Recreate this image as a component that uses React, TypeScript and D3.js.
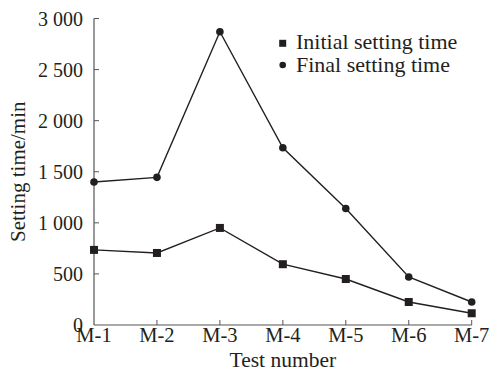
import React, { useEffect, useRef } from "react";
import * as d3 from "d3";

// Test series and their setting times (minutes)
const categories = ["M-1", "M-2", "M-3", "M-4", "M-5", "M-6", "M-7"];
const initialSetting = [735, 705, 950, 595, 450, 225, 115];
const finalSetting = [1400, 1445, 2870, 1735, 1140, 470, 225];
const yTicks = [0, 500, 1000, 1500, 2000, 2500, 3000];
const seriesNames = ["Initial setting time", "Final setting time"];

const W = 490;
const H = 379;
const INK = "#231f20";
const FONT = "Liberation Serif, Times New Roman, Times, serif";

function fmt(v: number): string {
  // thousands separated by a space, e.g. "2 500"
  const s = String(v);
  return s.length > 3 ? s.slice(0, s.length - 3) + " " + s.slice(-3) : s;
}

export default function App() {
  const ref = useRef<SVGSVGElement>(null);

  useEffect(() => {
    const svg = d3.select(ref.current);
    svg.selectAll("*").remove();

    const x = d3.scalePoint<string>().domain(categories).range([94, 471.7]);
    const y = d3.scaleLinear().domain([0, 3000]).range([325, 18.5]);

    const g = svg.append("g").style("font-family", FONT);

    // axes
    g.append("line")
      .attr("x1", x(categories[0])!).attr("x2", x(categories[0])!)
      .attr("y1", y(0)).attr("y2", y(3000))
      .attr("stroke", "#555").attr("stroke-width", 1.2);
    g.append("line")
      .attr("x1", x(categories[0])!).attr("x2", x(categories[categories.length - 1])!)
      .attr("y1", y(0)).attr("y2", y(0))
      .attr("stroke", "#555").attr("stroke-width", 1.2);

    // y ticks (inward) and labels
    yTicks.forEach((t) => {
      if (t > 0) {
        g.append("line")
          .attr("x1", x(categories[0])!).attr("x2", x(categories[0])! + 5)
          .attr("y1", y(t)).attr("y2", y(t))
          .attr("stroke", "#555").attr("stroke-width", 1);
      }
      g.append("text")
        .attr("x", 83).attr("y", y(t))
        .attr("dy", "0.35em")
        .attr("text-anchor", "end")
        .style("font-size", "20px")
        .attr("fill", INK)
        .text(fmt(t));
    });

    // x ticks (inward) and labels
    categories.forEach((c, i) => {
      if (i > 0) {
        g.append("line")
          .attr("x1", x(c)!).attr("x2", x(c)!)
          .attr("y1", y(0)).attr("y2", y(0) - 5)
          .attr("stroke", "#555").attr("stroke-width", 1);
      }
      g.append("text")
        .attr("x", x(c)!).attr("y", 342)
        .attr("text-anchor", "middle")
        .style("font-size", "20.5px")
        .attr("fill", INK)
        .text(c);
    });

    // axis titles
    g.append("text")
      .attr("x", (x(categories[0])! + x(categories[6])!) / 2).attr("y", 367)
      .attr("text-anchor", "middle")
      .style("font-size", "21.5px")
      .attr("fill", INK)
      .text("Test number");
    g.append("text")
      .attr("transform", `translate(25, ${(y(0) + y(3000)) / 2}) rotate(-90)`)
      .attr("text-anchor", "middle")
      .style("font-size", "21px")
      .attr("fill", INK)
      .text("Setting time/min");

    const line = d3.line<number>()
      .x((_, i) => x(categories[i])!)
      .y((d) => y(d));

    // final setting time: line + circles
    g.append("path")
      .attr("d", line(finalSetting)!)
      .attr("fill", "none").attr("stroke", INK).attr("stroke-width", 1.4);
    g.selectAll(".fin").data(finalSetting).enter().append("circle")
      .attr("cx", (_, i) => x(categories[i])!)
      .attr("cy", (d) => y(d))
      .attr("r", 3.8)
      .attr("fill", INK);

    // initial setting time: line + squares
    g.append("path")
      .attr("d", line(initialSetting)!)
      .attr("fill", "none").attr("stroke", INK).attr("stroke-width", 1.4);
    const s = 8;
    g.selectAll(".ini").data(initialSetting).enter().append("rect")
      .attr("x", (_, i) => x(categories[i])! - s / 2)
      .attr("y", (d) => y(d) - s / 2)
      .attr("width", s).attr("height", s)
      .attr("fill", INK);

    // legend
    const lg = g.append("g");
    lg.append("rect")
      .attr("x", 282.7 - 3.5).attr("y", 43.3 - 3.5)
      .attr("width", 7).attr("height", 7)
      .attr("fill", INK);
    lg.append("circle")
      .attr("cx", 282.7).attr("cy", 65)
      .attr("r", 3.3)
      .attr("fill", INK);
    seriesNames.forEach((n, i) => {
      lg.append("text")
        .attr("x", 296).attr("y", 48.5 + i * 23)
        .style("font-size", "22px")
        .attr("fill", INK)
        .text(n);
    });
  }, []);

  return (
    <svg
      ref={ref}
      width={W}
      height={H}
      style={{ position: "absolute", left: 0, top: 0, background: "#fff" }}
    />
  );
}
